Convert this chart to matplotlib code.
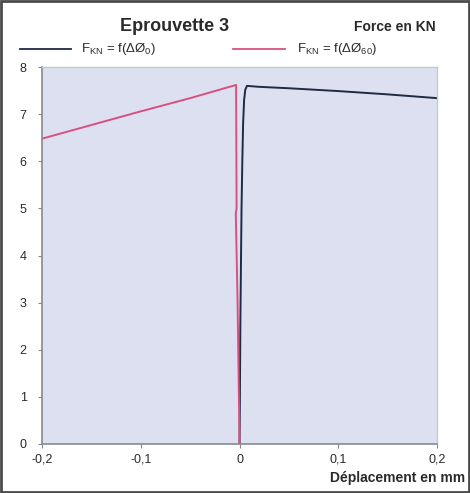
import matplotlib.pyplot as plt
from matplotlib.patches import Rectangle

plt.rcParams['font.family'] = ['Liberation Sans', 'DejaVu Sans']
plt.rcParams['mathtext.fontset'] = 'custom'
plt.rcParams['mathtext.rm'] = 'Liberation Sans'

# Displacement (mm) / force (kN) readings
depl_0 = [0.0, 0.0004, 0.0008, 0.0014, 0.002, 0.0028, 0.0036, 0.0046, 0.0058, 0.0075,
          0.02, 0.05, 0.1, 0.15, 0.2]
force_0 = [0.0, 1.2, 2.5, 3.8, 5.0, 6.0, 6.8, 7.3, 7.52, 7.6,
           7.58, 7.55, 7.49, 7.42, 7.34]

depl_60 = [-0.2, -0.15, -0.1, -0.05, -0.0035, -0.003, -0.0038, -0.002, -0.001, 0.0]
force_60 = [6.48, 6.77, 7.06, 7.34, 7.62, 5.0, 4.9, 3.0, 1.5, 0.0]

xticks = [-0.2, -0.1, 0.0, 0.1, 0.2]
xticklabels = ['-0,2', '-0,1', '0', '0,1', '0,2']
yticks = list(range(0, 9))

blue = '#1f2a44'
pink = '#d9507f'

fig = plt.figure(figsize=(4.7, 4.93), dpi=100)
fig.patches.append(Rectangle((0.002, 0.002), 0.996, 0.996, transform=fig.transFigure,
                             fill=False, edgecolor='#4a4a4a', linewidth=2))

ax = fig.add_axes([0.0894, 0.0994, 0.8406, 0.7646])
ax.set_facecolor('#dde0f1')
ax.plot(depl_0, force_0, color=blue, linewidth=1.4)
ax.plot(depl_60, force_60, color=pink, linewidth=1.4)

ax.set_xlim(-0.2, 0.2)
ax.set_ylim(0, 8)
ax.set_xticks(xticks)
ax.set_xticklabels(xticklabels)
ax.set_yticks(yticks)
ax.tick_params(direction='out', length=3, color='#888888', labelsize=9,
               labelcolor='#2a2a2a')
ax.tick_params(axis='x', pad=4)
ax.tick_params(axis='y', pad=8)
for side in ['left', 'bottom']:
    ax.spines[side].set_color('#8a8a8a')
    ax.spines[side].set_linewidth(1.2)
for side in ['top', 'right']:
    ax.spines[side].set_color('#c8c8c8')
    ax.spines[side].set_linewidth(1.0)

fig.text(0.372, 0.946, 'Eprouvette 3', ha='center', va='center',
         fontsize=13, fontweight='bold', color='#2a2a2a')
fig.text(0.84, 0.946, 'Force en KN', ha='center', va='center',
         fontsize=10, fontweight='bold', color='#2a2a2a')
fig.text(0.99, 0.03, 'Déplacement en mm', ha='right', va='center',
         fontsize=10, fontweight='bold', color='#2a2a2a')

# legend row drawn by hand above the axes
ax_leg = fig.add_axes([0, 0.87, 1, 0.06])
ax_leg.set_xlim(0, 1)
ax_leg.set_ylim(0, 1)
ax_leg.axis('off')
ax_leg.plot([0.043, 0.15], [0.5, 0.5], color=blue, linewidth=1.3)
ax_leg.plot([0.496, 0.606], [0.5, 0.5], color=pink, linewidth=1.3)
ax_leg.text(0.172, 0.5, r'F$_{\mathrm{KN}}$ = f(ΔØ$_{0}$)', va='center',
            fontsize=9.5, color='#2a2a2a')
ax_leg.text(0.632, 0.5, r'F$_{\mathrm{KN}}$ = f(ΔØ$_{60}$)', va='center',
            fontsize=9.5, color='#2a2a2a')

fig.savefig('out.png', dpi=100)
